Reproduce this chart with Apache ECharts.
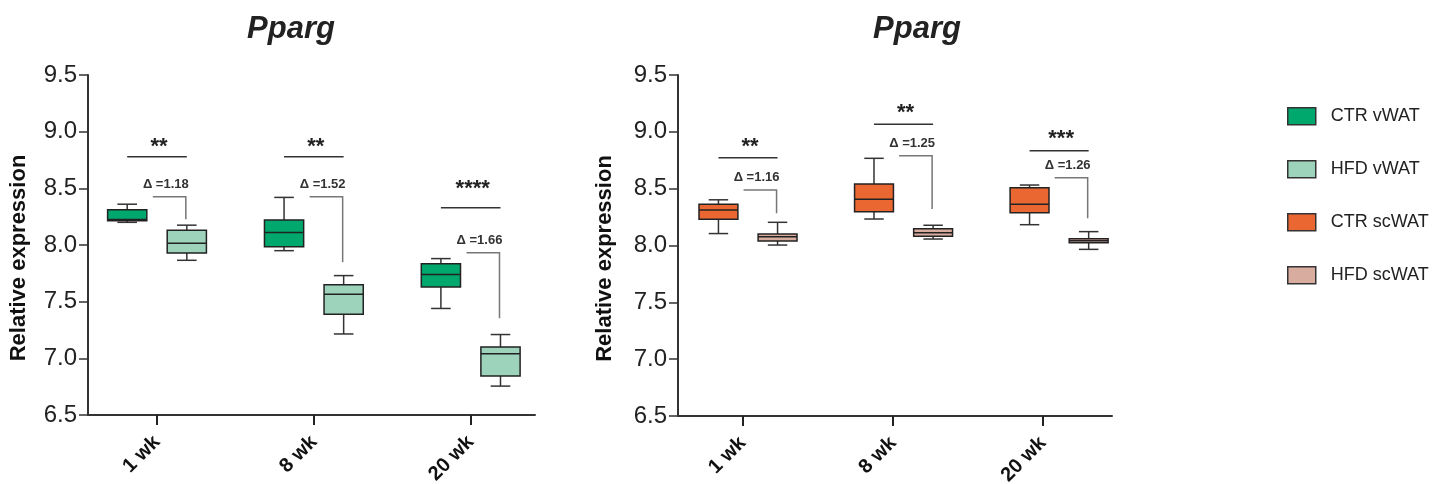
<!DOCTYPE html>
<html lang="en">
<head>
    <meta charset="UTF-8">
    <title>Pparg expression</title>
    <script src="https://cdn.jsdelivr.net/npm/echarts@6/dist/echarts.min.js"></script>
    <style>
        html, body { margin: 0; padding: 0; background: #fff; }
    </style>
</head>
<body>
    <div id="chart" style="width: 1443px; height: 484px;"></div>
    <script>
        // categories and tick positions (box pairs sit at 0, 1, 2)
        const weeks = ['1 wk', '8 wk', '20 wk'];
        const ticksLeft = [0, 1, 2];
        const ticksRight = [-0.034, 0.933, 1.897];

        // box values: [min, q1, median, q3, max]
        const ctrVWAT = [[8.20, 8.215, 8.225, 8.31, 8.36], [7.95, 7.985, 8.11, 8.22, 8.42], [7.44, 7.63, 7.74, 7.835, 7.88]];
        const hfdVWAT = [[7.865, 7.93, 8.015, 8.13, 8.175], [7.215, 7.39, 7.565, 7.65, 7.73], [6.755, 6.845, 7.04, 7.10, 7.21]];
        const ctrScWAT = [[8.105, 8.232, 8.313, 8.362, 8.402], [8.233, 8.297, 8.406, 8.541, 8.767], [8.183, 8.289, 8.362, 8.508, 8.532]];
        const hfdScWAT = [[8.004, 8.04, 8.078, 8.101, 8.204], [8.057, 8.081, 8.113, 8.148, 8.178], [7.966, 8.025, 8.042, 8.06, 8.122]];

        // significance annotations
        const sigLeft = [8.779, 8.779, 8.329];
        const starsLeft = ['**', '**', '****'];
        const starsYLeft = [8.912, 8.912, 8.536];
        const deltaLeft = ['Δ =1.18', 'Δ =1.52', 'Δ =1.66'];
        const bracketTopLeft = [8.426, 8.426, 7.932];
        const bracketEndLeft = [8.227, 7.847, 7.353];

        const sigRight = [8.772, 9.066, 8.834];
        const starsRight = ['**', '**', '***'];
        const starsYRight = [8.913, 9.21, 8.978];
        const deltaRight = ['Δ =1.16', 'Δ =1.25', 'Δ =1.26'];
        const bracketTopRight = [8.488, 8.79, 8.597];
        const bracketEndRight = [8.283, 8.321, 8.239];

        const names = ['CTR vWAT', 'HFD vWAT', 'CTR scWAT', 'HFD scWAT'];
        const colors = ['#00a86e', '#9dd2bb', '#ea6732', '#d8ad9f'];
        const FONT = '"Liberation Sans", Arial, Helvetica, sans-serif';

        const OFF = 0.19;   // box offset from pair centre, in category units
        const BOXW = 0.25;  // box width, in category units

        function boxRender(side) {
            return function (params, api) {
                const unit = api.size([1, 0])[0];
                const cx = api.coord([api.value(0), api.value(1)])[0] + side * unit * OFF;
                const w = unit * BOXW;
                const y = i => api.coord([api.value(0), api.value(i)])[1];
                const yMin = y(1), yQ1 = y(2), yMed = y(3), yQ3 = y(4), yMax = y(5);
                const lineStyle = { stroke: '#333', lineWidth: 1.5 };
                const fill = api.visual('color');
                return {
                    type: 'group',
                    children: [
                        { type: 'line', shape: { x1: cx, y1: yQ3, x2: cx, y2: yMax }, style: lineStyle },
                        { type: 'line', shape: { x1: cx, y1: yQ1, x2: cx, y2: yMin }, style: lineStyle },
                        { type: 'line', shape: { x1: cx - w / 4, y1: yMax, x2: cx + w / 4, y2: yMax }, style: lineStyle },
                        { type: 'line', shape: { x1: cx - w / 4, y1: yMin, x2: cx + w / 4, y2: yMin }, style: lineStyle },
                        { type: 'rect', shape: { x: cx - w / 2, y: yQ3, width: w, height: yQ1 - yQ3 }, style: { fill: fill, stroke: '#222', lineWidth: 1.5 } },
                        { type: 'line', shape: { x1: cx - w / 2, y1: yMed, x2: cx + w / 2, y2: yMed }, style: { stroke: '#222', lineWidth: 1.5 } }
                    ]
                };
            };
        }

        function annoRender(stars, deltas) {
            return function (params, api) {
                const i = params.dataIndex;
                const unit = api.size([1, 0])[0];
                const c = api.coord([api.value(0), api.value(1)]);
                const xL = c[0] - unit * OFF;
                const xR = c[0] + unit * OFF;
                const ySig = c[1];
                const yStars = api.coord([api.value(0), api.value(2)])[1];
                const yBr = api.coord([api.value(0), api.value(3)])[1];
                const yEnd = api.coord([api.value(0), api.value(4)])[1];
                const bx2 = xR - 1;
                const bx1 = xR - 34;
                return {
                    type: 'group',
                    children: [
                        { type: 'line', shape: { x1: xL, y1: ySig, x2: xR, y2: ySig }, style: { stroke: '#333', lineWidth: 1.5 } },
                        {
                            type: 'text', x: (xL + xR) / 2 + 2, y: yStars + 5,
                            style: { text: stars[i], align: 'center', verticalAlign: 'middle', font: 'bold 22px ' + FONT, fill: '#222' }
                        },
                        { type: 'polyline', shape: { points: [[bx1, yBr], [bx2, yBr], [bx2, yEnd]] }, style: { stroke: '#777', lineWidth: 1.5, fill: null } },
                        {
                            type: 'text', x: xR - 21, y: yBr - 12.5,
                            style: { text: deltas[i], align: 'center', verticalAlign: 'middle', font: 'bold 13px ' + FONT, fill: '#333' }
                        }
                    ]
                };
            };
        }

        function boxData(arr) {
            return arr.map((v, i) => [i].concat(v));
        }

        function annoData(sig, starsY, brTop, brEnd) {
            return sig.map((v, i) => [i, v, starsY[i], brTop[i], brEnd[i]]);
        }

        function xAxisFor(gridIndex, min, max, ticks) {
            return {
                type: 'value', gridIndex: gridIndex, min: min, max: max,
                axisLine: { show: true, onZero: false, lineStyle: { color: '#333', width: 2 } },
                splitLine: { show: false },
                axisTick: { show: true, customValues: ticks, length: 10, lineStyle: { color: '#222', width: 2 } },
                axisLabel: {
                    customValues: ticks, rotate: 45, margin: 24,
                    fontSize: 20, fontWeight: 'bold', color: '#111', fontFamily: FONT,
                    formatter: function (v) {
                        let best = 0;
                        ticks.forEach((t, k) => { if (Math.abs(t - v) < Math.abs(ticks[best] - v)) best = k; });
                        return weeks[best];
                    }
                }
            };
        }

        function yAxisFor(gridIndex, gap) {
            return {
                type: 'value', gridIndex: gridIndex, min: 6.5, max: 9.5, interval: 0.5,
                name: 'Relative expression', nameLocation: 'middle', nameGap: gap, nameRotate: 90,
                nameTextStyle: { fontSize: 22, fontWeight: 'bold', color: '#111', fontFamily: FONT, padding: [0, 26, 0, 0] },
                axisLine: { show: true, onZero: false, lineStyle: { color: '#333', width: 2 } },
                splitLine: { show: false },
                axisTick: { show: true, length: 9, lineStyle: { color: '#333', width: 1.5 } },
                axisLabel: { fontSize: 24, color: '#222', margin: 11, fontFamily: FONT, formatter: v => v.toFixed(1) }
            };
        }

        const chart = echarts.init(document.getElementById('chart'));

        const option = {
            animation: false,
            textStyle: { fontFamily: FONT },
            title: [
                { text: 'Pparg', left: 286, top: 9, textAlign: 'center', textStyle: { fontSize: 31, fontWeight: 'bold', fontStyle: 'italic', color: '#222', fontFamily: FONT } },
                { text: 'Pparg', left: 912, top: 9, textAlign: 'center', textStyle: { fontSize: 31, fontWeight: 'bold', fontStyle: 'italic', color: '#222', fontFamily: FONT } }
            ],
            legend: {
                orient: 'vertical', left: 1282, top: 102,
                itemWidth: 28, itemHeight: 17, itemGap: 34.5,
                icon: 'rect', selectedMode: false,
                textStyle: { fontSize: 18, color: '#222', fontFamily: FONT, padding: [0, 0, 0, 10] },
                data: names.map((n, i) => ({ name: n, itemStyle: { color: colors[i], borderColor: '#333', borderWidth: 1.5 } }))
            },
            grid: [
                { left: 88, top: 75, width: 447, height: 340, outerBoundsMode: 'none' },
                { left: 678, top: 75, width: 434, height: 341, outerBoundsMode: 'none' }
            ],
            xAxis: [
                xAxisFor(0, -0.44, 2.41, ticksLeft),
                xAxisFor(1, -0.45, 2.34, ticksRight)
            ],
            yAxis: [
                yAxisFor(0, 58),
                yAxisFor(1, 62)
            ],
            series: [
                { name: names[0], type: 'custom', xAxisIndex: 0, yAxisIndex: 0, itemStyle: { color: colors[0] }, encode: { x: 0, y: [1, 2, 3, 4, 5] }, renderItem: boxRender(-1), data: boxData(ctrVWAT) },
                { name: names[1], type: 'custom', xAxisIndex: 0, yAxisIndex: 0, itemStyle: { color: colors[1] }, encode: { x: 0, y: [1, 2, 3, 4, 5] }, renderItem: boxRender(1), data: boxData(hfdVWAT) },
                { name: names[2], type: 'custom', xAxisIndex: 1, yAxisIndex: 1, itemStyle: { color: colors[2] }, encode: { x: 0, y: [1, 2, 3, 4, 5] }, renderItem: boxRender(-1), data: boxData(ctrScWAT) },
                { name: names[3], type: 'custom', xAxisIndex: 1, yAxisIndex: 1, itemStyle: { color: colors[3] }, encode: { x: 0, y: [1, 2, 3, 4, 5] }, renderItem: boxRender(1), data: boxData(hfdScWAT) },
                { type: 'custom', xAxisIndex: 0, yAxisIndex: 0, z: 5, silent: true, encode: { x: 0, y: [1, 2, 3, 4] }, renderItem: annoRender(starsLeft, deltaLeft), data: annoData(sigLeft, starsYLeft, bracketTopLeft, bracketEndLeft) },
                { type: 'custom', xAxisIndex: 1, yAxisIndex: 1, z: 5, silent: true, encode: { x: 0, y: [1, 2, 3, 4] }, renderItem: annoRender(starsRight, deltaRight), data: annoData(sigRight, starsYRight, bracketTopRight, bracketEndRight) }
            ]
        };

        chart.setOption(option);
    </script>
</body>
</html>
